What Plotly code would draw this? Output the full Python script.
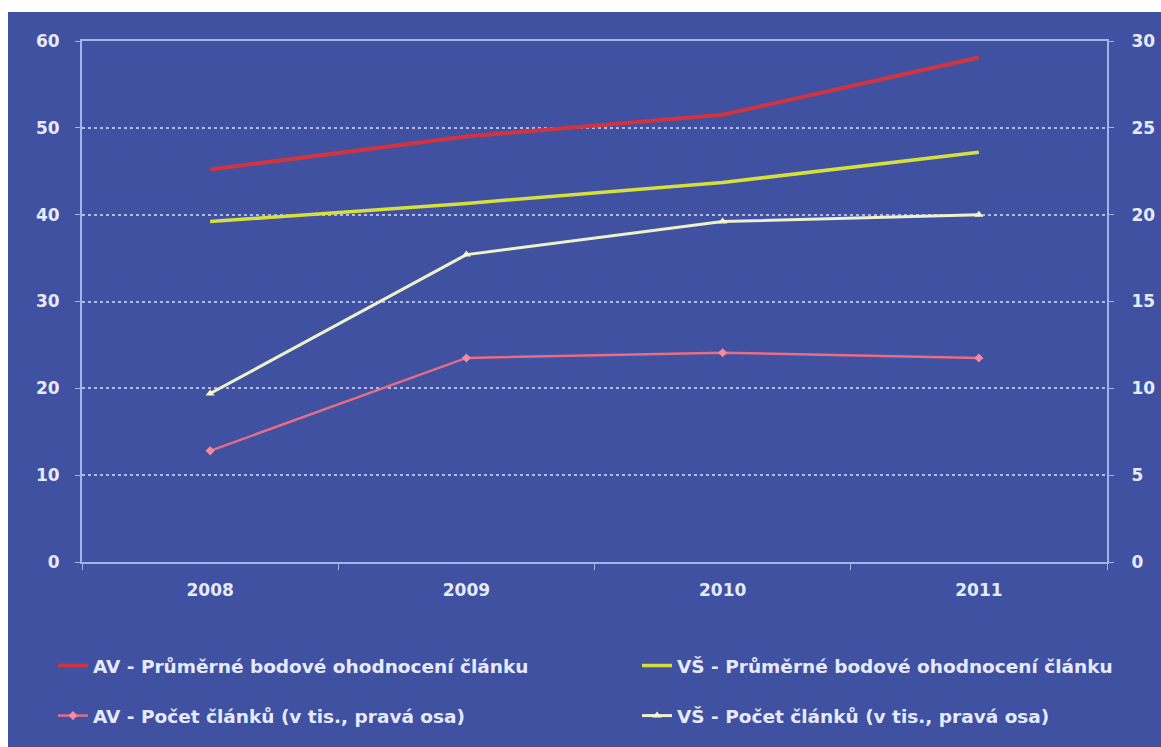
import plotly.graph_objects as go

years = ["2008", "2009", "2010", "2011"]
av_avg = [45.2, 49.0, 51.5, 58.1]
vs_avg = [39.2, 41.3, 43.7, 47.2]
av_count = [6.4, 11.75, 12.05, 11.75]
vs_count = [9.7, 17.7, 19.6, 20.0]

names = [
    "AV - Průměrné bodové ohodnocení článku",
    "VŠ - Průměrné bodové ohodnocení článku",
    "AV - Počet článků (v tis., pravá osa)",
    "VŠ - Počet článků (v tis., pravá osa)",
]

BG = "#3f51a0"
AXC = "#a7b1ea"
TXT = "#e6eaff"
FONT = "DejaVu Sans, Liberation Sans, Arial, sans-serif"

fig = go.Figure()
fig.add_trace(go.Scatter(x=years, y=av_avg, name=names[0], mode="lines",
                         legend="legend", legendgroup="a",
                         line=dict(color="#d0343f", width=4)))
fig.add_trace(go.Scatter(x=years, y=vs_avg, name=names[1], mode="lines",
                         legend="legend2", legendgroup="b",
                         line=dict(color="#d6df3c", width=3.5)))
fig.add_trace(go.Scatter(x=years, y=av_count, name=names[2], mode="lines+markers", yaxis="y2",
                         legend="legend", legendgroup="c",
                         line=dict(color="#e56d86", width=2.5),
                         marker=dict(symbol="diamond", size=7, color="#f08ca0")))
fig.add_trace(go.Scatter(x=years, y=vs_count, name=names[3], mode="lines+markers", yaxis="y2",
                         legend="legend2", legendgroup="d",
                         line=dict(color="#eef2cc", width=3),
                         marker=dict(symbol="triangle-up", size=8, color="#f4f7c8")))

L, R, T, B = 82, 54, 41, 185
W, H = 1161, 747
pw, ph = W - L - R, H - T - B

fig.add_shape(type="rect", xref="paper", yref="paper", layer="below",
              x0=(8 - L) / pw, x1=(W - L) / pw + 0.01,
              y0=-(B + 5) / ph, y1=(H - B - 12) / ph,
              fillcolor=BG, line=dict(width=0))

tickfont = dict(family=FONT, size=17, color=TXT, weight="bold")
legfont = dict(family=FONT, size=18.5, color=TXT, weight="bold")

leg_common = dict(orientation="v", xref="paper", yref="paper",
                  xanchor="left", yanchor="top", bgcolor="rgba(0,0,0,0)",
                  font=legfont, tracegroupgap=23, itemwidth=30)

def px_x(p):
    return (p - L) / pw

def px_y(p):
    return (H - B - p) / ph

fig.update_layout(
    width=W, height=H,
    margin=dict(l=L, r=R, t=T, b=B, pad=0, autoexpand=False),
    paper_bgcolor="white",
    plot_bgcolor="rgba(0,0,0,0)",
    font=dict(family=FONT, color=TXT),
    xaxis=dict(type="category", range=[-0.5, 3.5], showline=True, linecolor=AXC, linewidth=2,
               mirror=True, showgrid=False, ticks="outside", tickson="boundaries",
               ticklen=6, tickcolor=AXC, tickfont=tickfont, ticklabelstandoff=12,
               tickangle=0, automargin=False),
    yaxis=dict(range=[0, 60], dtick=10, showline=True, linecolor=AXC, linewidth=2,
               mirror=True, showgrid=True, gridcolor="rgba(215,222,255,0.75)", griddash="dot",
               gridwidth=1.5, ticks="outside", ticklen=5, tickcolor=AXC, tickfont=tickfont,
               zeroline=False, ticklabelstandoff=12, automargin=False),
    yaxis2=dict(range=[0, 30], dtick=5, overlaying="y", side="right", showline=True,
                linecolor=AXC, linewidth=2, showgrid=False, ticks="outside", ticklen=5,
                tickcolor=AXC, tickfont=tickfont, zeroline=False, ticklabelstandoff=14,
                automargin=False),
    legend=dict(x=px_x(53), y=px_y(647), **leg_common),
    legend2=dict(x=px_x(637), y=px_y(647), **leg_common),
    showlegend=True,
)

fig.write_html("out.html")
